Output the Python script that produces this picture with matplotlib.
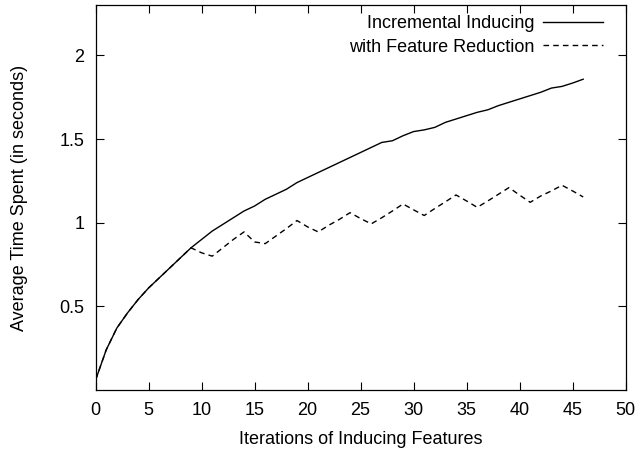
import matplotlib
matplotlib.use('Agg')
import matplotlib.pyplot as plt

plt.rcParams['font.family'] = ['Liberation Sans', 'DejaVu Sans']

# Values
iterations = list(range(0, 47))
incremental = [0.06, 0.24, 0.37, 0.46, 0.54, 0.61, 0.67, 0.73, 0.79, 0.85,
               0.90, 0.95, 0.99, 1.03, 1.07, 1.10, 1.14, 1.17, 1.20, 1.24,
               1.27, 1.30, 1.33, 1.36, 1.39, 1.42, 1.45, 1.48, 1.49, 1.52,
               1.545, 1.555, 1.57, 1.60, 1.62, 1.64, 1.66, 1.675, 1.70, 1.72,
               1.74, 1.76, 1.78, 1.805, 1.815, 1.835, 1.858]
reduction = [0.06, 0.24, 0.37, 0.46, 0.54, 0.61, 0.67, 0.73, 0.79, 0.85,
             0.82, 0.80, 0.85, 0.90, 0.945, 0.885, 0.875, 0.92, 0.965, 1.013,
             0.975, 0.945, 0.985, 1.02, 1.06, 1.025, 0.993, 1.03, 1.07, 1.112,
             1.077, 1.043, 1.085, 1.125, 1.166, 1.13, 1.092, 1.13, 1.17, 1.21,
             1.165, 1.122, 1.16, 1.19, 1.224, 1.19, 1.154]

x_ticks = [0, 5, 10, 15, 20, 25, 30, 35, 40, 45, 50]
y_ticks = [0.5, 1, 1.5, 2]
y_labels = ['0.5', '1', '1.5', '2']

fig = plt.figure(figsize=(6.4, 4.51), dpi=100)
ax = fig.add_axes([0.1494, 0.1353, 0.8281, 0.8530])

ax.plot(iterations, incremental, color='black', linewidth=1.0,
        label='Incremental Inducing')
ax.plot(iterations, reduction, color='black', linewidth=1.0,
        dashes=(4, 3), label='with Feature Reduction')

ax.set_xlim(0, 50)
ax.set_ylim(0, 2.3)
ax.set_xticks(x_ticks)
ax.set_yticks(y_ticks)
ax.set_yticklabels(y_labels)
ax.tick_params(direction='in', length=5.5, width=0.8, labelsize=13,
               top=True, right=True, colors='black')
ax.tick_params(axis='x', pad=9)
ax.tick_params(axis='y', pad=8)
for s in ax.spines.values():
    s.set_linewidth(0.9)

ax.set_xlabel('Iterations of Inducing Features', fontsize=13, labelpad=8)
ax.set_ylabel('Average Time Spent (in seconds)', fontsize=13, labelpad=23)

ax.legend(loc='upper right', bbox_to_anchor=(0.9566, 0.975), frameon=False,
          markerfirst=False, handlelength=3.3, handletextpad=0.45,
          labelspacing=0.38, fontsize=13, borderpad=0, borderaxespad=0)

fig.savefig('out.png', dpi=100)
